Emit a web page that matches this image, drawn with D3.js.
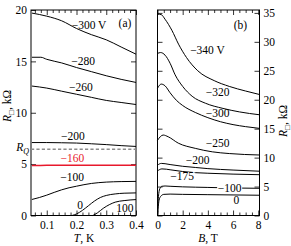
<!DOCTYPE html>
<html><head><meta charset="utf-8">
<script src="https://cdn.jsdelivr.net/npm/d3@7"></script>
<style>
body{margin:0;background:#fff}
svg text{font-family:"Liberation Serif","Times New Roman",serif !important;font-size:11.5px;fill:#000}
</style>
</head><body>
<svg id="c" width="291" height="246" font-family="Liberation Serif"></svg>
<script>
// ---------- DATA: panel (a), R(T) ----------
const aT_m300 = [0.05,0.1,0.15,0.2,0.25,0.3,0.35,0.4];
const aR_m300 = [19.7,19.4,18.95,18.2,17.6,17.1,16.4,15.7];
const aT_m280 = [0.05,0.08,0.1,0.15,0.2,0.25,0.3,0.35,0.4];
const aR_m280 = [15.4,15.4,15.2,14.85,14.4,14.0,13.6,13.25,12.95];
const aT_m260 = [0.05,0.1,0.15,0.2,0.25,0.3,0.35,0.4];
const aR_m260 = [12.6,12.4,12.1,11.8,11.5,11.2,11.0,10.8];
const aT_m200 = [0.05,0.1,0.15,0.2,0.25,0.3,0.35,0.4];
const aR_m200 = [7.1,7.1,7.08,7.05,6.98,6.9,6.8,6.72];
const aT_m160 = [0.05,0.1,0.2,0.3,0.4];
const aR_m160 = [4.86,4.88,4.9,4.9,4.9];
const aT_m100 = [0.05,0.075,0.1,0.125,0.15,0.175,0.2,0.225,0.25,0.3,0.35,0.4];
const aR_m100 = [1.56,1.75,1.98,2.25,2.5,2.7,2.85,3.0,3.12,3.25,3.3,3.32];
const aT_0 = [0.185,0.2,0.22,0.24,0.26,0.28,0.3,0.33,0.36,0.4];
const aR_0 = [0,0.15,0.5,0.95,1.4,1.75,1.95,2.1,2.17,2.2];
const aT_100 = [0.255,0.27,0.29,0.31,0.33,0.36,0.4];
const aR_100 = [0,0.25,0.7,1.05,1.3,1.45,1.55];
const RQ = 6.45;
const labelsA = ["\u2212300 V","\u2212280","\u2212260","\u2212200","\u2212160","\u2212100","0","100"];

// ---------- DATA: panel (b), R(B) ----------
const bB_m340 = [0,0.3,0.6,1.14,1.67,2.3,3.2,4.5,5.7,7,8.1];
const bR_m340 = [34.8,34.7,33.9,32.0,29.6,27.3,25.0,23.3,22.3,21.5,20.9];
const bB_m320 = [0,0.25,0.6,1,1.4,2,2.75,3.8,5.2,6.5,8.1];
const bR_m320 = [28.0,28.15,27.7,26.3,24.3,22.3,20.6,19.4,18.5,17.9,17.4];
const bB_m300 = [0,0.3,0.6,1,1.5,2,3,4,5,6,7,8.1];
const bR_m300 = [22.0,22.7,22.4,21.2,19.9,19.0,17.8,16.9,16.2,15.7,15.35,15.05];
const bB_m250 = [0,0.45,0.85,1.65,3,4.35,5.7,8.1];
const bR_m250 = [13.0,13.9,13.6,12.5,11.6,11.0,10.7,10.45];
const bB_m200 = [0,0.3,0.6,1,2,3,4,6,8.1];
const bR_m200 = [8.7,9.0,8.95,8.8,8.5,8.3,8.1,7.85,7.65];
const bB_m175 = [0,0.35,0.7,1,2,3,4,6,8.1];
const bR_m175 = [7.7,8.05,8.0,7.9,7.6,7.4,7.3,7.15,7.05];
const bB_m100 = [0,0.05,0.1,0.2,0.35,0.6,1,2,4,6,8.1];
const bR_m100 = [0.5,2.5,3.8,4.7,5.05,5.1,5.05,4.95,4.85,4.75,4.7];
const bB_0 = [0,0.06,0.12,0.25,0.5,1,2,4,6,8.1];
const bR_0 = [0,1.5,2.6,3.3,3.65,3.7,3.65,3.6,3.55,3.5];
const labelsB = ["\u2212340 V","\u2212320","\u2212300","\u2212250","\u2212200","\u2212175","\u2212100","0"];

// ticks
const aXMajor = [0.1,0.2,0.3,0.4];
const aXMinor = d3.range(0.06,0.401,0.02).filter(v=>Math.abs(v*10-Math.round(v*10))>1e-6);
const aYMajor = [0,5,10,15,20];
const bXMajor = [0,2,4,6,8];
const bXMinor = d3.range(0.5,8.01,0.5).filter(v=>v%2!==0);
const bYMajor = [0,5,10,15,20,25,30,35];

// ---------- LAYOUT ----------
const FONT = "'Liberation Serif','Times New Roman',serif";
const svg = d3.select("#c");
const plotTop = 10, plotBottom = 215.5;
const xA = d3.scaleLinear().domain([0.047,0.4]).range([31,136]);
const yA = d3.scaleLinear().domain([0,20]).range([plotBottom,plotTop]);
const xB = d3.scaleLinear().domain([0,8.1]).range([157.5,259.5]);
const yB = d3.scaleLinear().domain([0,35.5]).range([plotBottom,plotTop]);

function frame(x,y,xMaj,xMin,yMaj,fmtX,yLabelSide){
  const g = svg.append("g");
  const [x0,x1]=x.range(), [y0,y1]=y.range();
  g.append("g").attr("transform",`translate(0,${y0})`)
    .call(d3.axisBottom(x).tickValues(xMaj).tickSize(-5).tickPadding(5).tickFormat(fmtX));
  g.append("g").attr("transform",`translate(0,${y0})`)
    .call(d3.axisBottom(x).tickValues(xMin).tickSize(-3).tickFormat(""));
  g.append("g").attr("transform",`translate(0,${y1})`)
    .call(d3.axisTop(x).tickValues(xMaj).tickSize(-5).tickFormat(""));
  g.append("g").attr("transform",`translate(0,${y1})`)
    .call(d3.axisTop(x).tickValues(xMin).tickSize(-3).tickFormat(""));
  g.append("g").attr("transform",`translate(${x0},0)`)
    .call(d3.axisLeft(y).tickValues(yMaj).tickSize(-5).tickPadding(4).tickFormat(yLabelSide==="left"?d3.format("d"):""));
  g.append("g").attr("transform",`translate(${x1},0)`)
    .call(d3.axisRight(y).tickValues(yMaj).tickSize(-5).tickPadding(4).tickFormat(yLabelSide==="right"?d3.format("d"):""));
  g.selectAll(".domain").remove();
  g.selectAll("g").attr("font-family",FONT).attr("font-size",11.5);
  g.selectAll("line").attr("stroke","#000").attr("stroke-width",0.8);
  g.selectAll("text").style("font-family",FONT).style("font-size","11.5px");
  g.append("rect").attr("x",x0).attr("y",y1).attr("width",x1-x0).attr("height",y0-y1)
    .attr("fill","none").attr("stroke","#000").attr("stroke-width",1);
}
frame(xA,yA,aXMajor,aXMinor,aYMajor,d3.format(".1f"),"left");
frame(xB,yB,bXMajor,bXMinor,bYMajor,d3.format("d"),"right");

function curve(x,y,xs,ys,color,w,dash){
  const pts = xs.map((v,i)=>[v,ys[i]]);
  svg.append("path").datum(pts)
    .attr("d",d3.line().x(d=>x(d[0])).y(d=>y(d[1])).curve(d3.curveMonotoneX))
    .attr("fill","none").attr("stroke",color).attr("stroke-width",w)
    .attr("stroke-dasharray",dash||null);
}
const red = "#e8192c";
curve(xA,yA,[0.047,0.4],[RQ,RQ],"#8c8c8c",1.4,"3.2,2.2");
curve(xA,yA,aT_m300,aR_m300,"#000",1);
curve(xA,yA,aT_m280,aR_m280,"#000",1);
curve(xA,yA,aT_m260,aR_m260,"#000",1);
curve(xA,yA,aT_m200,aR_m200,"#000",1);
curve(xA,yA,aT_m160,aR_m160,red,1.5);
curve(xA,yA,aT_m100,aR_m100,"#000",1);
curve(xA,yA,aT_0,aR_0,"#000",1);
curve(xA,yA,aT_100,aR_100,"#000",1);
curve(xB,yB,bB_m340,bR_m340,"#000",1);
curve(xB,yB,bB_m320,bR_m320,"#000",1);
curve(xB,yB,bB_m300,bR_m300,"#000",1);
curve(xB,yB,bB_m250,bR_m250,"#000",1);
curve(xB,yB,bB_m200,bR_m200,"#000",1);
curve(xB,yB,bB_m175,bR_m175,"#000",1);
curve(xB,yB,bB_m100,bR_m100,"#000",1);
curve(xB,yB,bB_0,bR_0,"#000",1);

// annotation anchor points (data coords)
const annA = [[0.242,18.5],[0.222,15.0],[0.215,12.5],[0.188,7.7],[0.186,5.6],[0.185,3.74],[0.212,1.07],[0.363,0.78]];
const annB = [[3.97,28.6],[4.77,21.3],[4.77,17.7],[4.77,12.5],[3.18,9.6],[1.95,6.9],[5.72,4.75],[6.27,2.6]];
function label(x,y,p,t,color,bg){
  const tx = svg.append("text").attr("x",x(p[0])).attr("y",y(p[1])).attr("dy","0.35em")
    .attr("text-anchor","middle").style("font-family",FONT).style("fill",color||"#000").text(t);
  if(bg){
    const b = tx.node().getBBox();
    svg.insert("rect",()=>tx.node()).attr("x",b.x-0.5).attr("y",y(p[1])-3.5).attr("width",b.width+1).attr("height",7).attr("fill","#fff");
  }
}
labelsA.forEach((t,i)=>label(xA,yA,annA[i],t,i===4?red:"#000"));
labelsB.forEach((t,i)=>label(xB,yB,annB[i],t,"#000",i===5||i===6));
label(xA,yA,[0.363,18.7],"(a)");
label(xB,yB,[6.59,32.9],"(b)");

const rq = svg.append("text").attr("x",xA.range()[0]-2).attr("y",yA(RQ)-2).attr("text-anchor","end").attr("dy","0.35em").style("font-family",FONT);
rq.append("tspan").style("font-style","italic").text("R");
rq.append("tspan").attr("dy","3").style("font-size","8px").style("font-style","italic").text("Q");

function rlabel(x,y){
  const t = svg.append("text").attr("transform",`translate(${x},${y}) rotate(-90)`).attr("text-anchor","middle").style("font-family",FONT);
  t.append("tspan").style("font-style","italic").text("R");
  t.append("tspan").attr("dy","2.5").style("font-size","8px").text("\u25A1");
  t.append("tspan").attr("dy","-2.5").text(", k\u03A9");
}
rlabel(11,106);
rlabel(287,121);
function xlabel(x,y,v,u){
  const t = svg.append("text").attr("x",x).attr("y",y).attr("text-anchor","middle").style("font-family",FONT);
  t.append("tspan").style("font-style","italic").text(v);
  t.append("tspan").text(", "+u);
}
xlabel(84,242,"T","K");
xlabel(208,242,"B","T");
</script>
</body></html>
